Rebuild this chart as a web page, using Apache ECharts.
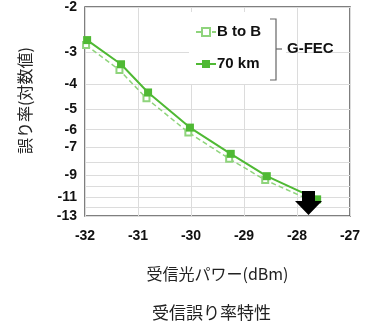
<!DOCTYPE html>
<html>
<head>
<meta charset="utf-8">
<script src="https://cdn.jsdelivr.net/npm/echarts@6/dist/echarts.min.js"></script>
<style>
  html, body { margin: 0; padding: 0; background: #fff; }
  #main { width: 366px; height: 328px; }
</style>
</head>
<body>
<div id="main"></div>
<script>
// received optical power (dBm) and error rate exponent log10(BER)
var power70 = [-31.96, -31.32, -30.81, -30.02, -29.25, -28.57, -27.62];
var ber70 = [-2.69, -3.34, -4.30, -5.89, -7.45, -9.1, -11.2];
var powerB2B = [-31.98, -31.35, -30.84, -30.05, -29.28, -28.6, -27.7];
var berB2B = [-2.81, -3.52, -4.53, -6.15, -7.78, -9.42, -11.4];

var xTicks = [-32, -31, -30, -29, -28, -27];
var yLabels = [2, 3, 4, 5, 6, 7, 9, 11, 13];
var yGrid = [2, 3, 4, 5, 6, 7, 8, 9, 10, 11, 12, 13];

function pairs(xs, ys) {
    return xs.map(function (x, i) { return [x, -ys[i]]; });
}

var chart = echarts.init(document.getElementById('main'));

var labelFont = { color: '#111', fontWeight: 'bold', fontSize: 14, fontFamily: 'Arial, Liberation Sans, sans-serif' };
var jpFont = 'Noto Sans CJK JP, sans-serif';

chart.setOption({
    animation: false,
    title: {
        text: '受信誤り率特性',
        left: 152,
        top: 304,
        padding: 0,
        textStyle: { fontSize: 17, fontWeight: 'normal', color: '#222', fontFamily: jpFont }
    },
    grid: {
        left: 85, right: 16, top: 1, bottom: 112,
        show: true, borderColor: '#555', borderWidth: 1.5
    },
    legend: {
        orient: 'vertical',
        left: 191,
        top: 18,
        padding: [6, 4, 6, 4],
        itemGap: 16,
        itemWidth: 20,
        itemHeight: 10,
        z: 10,
        textStyle: Object.assign({}, labelFont, { fontSize: 15, lineHeight: 16, padding: [0, 0, 0, -4] }),
        data: ['B to B', '70 km']
    },
    xAxis: {
        type: 'value',
        min: -32, max: -27, interval: 1,
        name: '受信光パワー(dBm)',
        nameLocation: 'middle',
        nameGap: 50,
        nameTextStyle: { fontSize: 16, color: '#222', fontFamily: jpFont },
        axisLine: { show: false },
        axisTick: { show: false },
        axisLabel: Object.assign({ margin: 13, customValues: xTicks }, labelFont),
        splitLine: { lineStyle: { color: '#dcdcdc', width: 1 } }
    },
    yAxis: {
        type: 'log',
        logBase: 10,
        min: 2, max: 13,
        inverse: true,
        name: '誤り率(対数値)',
        nameLocation: 'middle',
        nameRotate: 90,
        nameGap: 52,
        nameTextStyle: { fontSize: 16, color: '#222', fontFamily: jpFont, padding: [0, 0, 0, 22] },
        axisLine: { show: false },
        axisTick: { show: false, customValues: yGrid },
        axisLabel: Object.assign({
            margin: 8,
            customValues: yLabels,
            formatter: function (v) { return '-' + v; }
        }, labelFont),
        splitLine: { lineStyle: { color: '#dcdcdc', width: 1 } }
    },
    series: [
        {
            name: 'B to B',
            type: 'line',
            data: pairs(powerB2B, berB2B),
            symbol: 'emptyRect',
            symbolSize: 6,
            itemStyle: { color: '#8fd47c', borderWidth: 1.5 },
            lineStyle: { color: '#8fd47c', width: 1.5, type: [5, 3] },
            z: 2
        },
        {
            name: '70 km',
            type: 'line',
            data: pairs(power70, ber70),
            symbol: 'rect',
            symbolSize: 8,
            itemStyle: { color: '#4fb934' },
            lineStyle: { color: '#4fb934', width: 2 },
            z: 3
        }
    ],
    graphic: [
        {
            type: 'rect', z: 5,
            shape: { x: 189, y: 12, width: 97, height: 72 },
            style: { fill: '#fff' }
        },
        {
            type: 'polyline', z: 11,
            shape: { points: [[270, 19], [276, 19], [276, 80], [270, 80]] },
            style: { stroke: '#666', lineWidth: 1.2, fill: null }
        },
        {
            type: 'line', z: 11,
            shape: { x1: 276, y1: 49, x2: 282, y2: 49 },
            style: { stroke: '#666', lineWidth: 1.2 }
        },
        {
            type: 'text', z: 11,
            left: 287, top: 41,
            style: { text: 'G-FEC', fill: '#111', font: 'bold 15px Arial, Liberation Sans, sans-serif' }
        },
        {
            type: 'polygon', z: 12,
            shape: { points: [[302, 191], [315, 191], [315, 201], [322, 201], [308.5, 215], [295, 201], [302, 201]] },
            style: { fill: '#000' }
        }
    ]
});
</script>
</body>
</html>
